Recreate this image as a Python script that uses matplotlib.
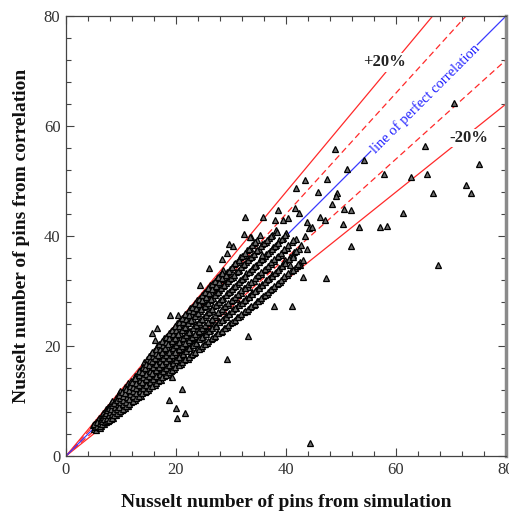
import numpy as np
import matplotlib.pyplot as plt

plt.rcParams['font.family'] = ['Liberation Serif', 'DejaVu Serif']

# (simulation, correlation) pairs - dense cloud
cloud = [
    (5.1, 5.0), (4.9, 5.6), (5.4, 4.8), (5.2, 5.5), (5.5, 6.1), (5.8, 5.2), (5.6, 5.9), (5.9, 6.5),
    (6.1, 5.1), (5.9, 5.7), (6.2, 6.2), (6.0, 6.9), (6.3, 5.5), (6.6, 6.0), (6.4, 6.8), (6.5, 7.4),
    (6.9, 5.8), (6.7, 6.4), (7.0, 7.2), (6.8, 7.8), (7.3, 6.1), (7.1, 6.6), (7.4, 7.5), (7.2, 8.0),
    (7.3, 8.6), (7.7, 6.3), (7.5, 7.1), (7.8, 7.7), (7.6, 8.5), (7.7, 9.0), (8.1, 6.8), (7.9, 7.3),
    (8.2, 8.2), (8.0, 8.8), (8.1, 9.6), (8.6, 7.0), (8.4, 7.9), (8.7, 8.4), (8.5, 9.3), (8.4, 10.0),
    (9.1, 7.5), (8.9, 8.1), (9.2, 9.1), (9.0, 9.6), (9.1, 10.5), (9.6, 7.8), (9.4, 8.7), (9.7, 9.3),
    (9.5, 10.2), (9.4, 10.8), (9.6, 11.4), (10.1, 8.3), (9.9, 8.9), (10.2, 9.9), (10.0, 10.5),
    (10.1, 11.5), (9.9, 11.9), (10.7, 8.7), (10.5, 9.6), (10.8, 10.2), (10.6, 11.2), (10.5, 11.8),
    (10.7, 12.6), (11.3, 9.1), (11.1, 10.1), (11.4, 10.8), (11.2, 11.8), (11.1, 12.3), (11.3, 13.2),
    (11.9, 9.8), (11.7, 10.5), (12.0, 11.5), (11.8, 12.2), (11.7, 13.1), (11.9, 13.7), (12.5, 10.1),
    (12.3, 11.2), (12.6, 11.9), (12.4, 12.9), (12.3, 13.6), (12.5, 14.6), (13.1, 10.7), (12.9, 11.4),
    (13.2, 12.6), (13.0, 13.3), (12.9, 14.4), (13.1, 15.1), (13.7, 11.0), (13.5, 12.2), (13.8, 12.9),
    (13.6, 14.1), (13.5, 14.8), (13.7, 15.9), (14.3, 11.7), (14.1, 12.5), (14.4, 13.7), (14.2, 14.4),
    (14.1, 15.6), (14.3, 16.3), (14.2, 17.1), (14.9, 12.0), (14.7, 13.2), (15.0, 14.0), (14.8, 15.2),
    (14.7, 16.0), (14.9, 17.2), (14.8, 17.6), (15.5, 12.7), (15.3, 13.6), (15.6, 14.8), (15.4, 15.7),
    (15.3, 16.9), (15.5, 17.7), (15.4, 18.5), (16.1, 13.0), (15.9, 14.2), (16.2, 15.1), (16.0, 16.4),
    (15.9, 17.2), (16.1, 18.5), (16.0, 19.1), (16.7, 13.6), (16.5, 14.5), (16.8, 15.9), (16.6, 16.8),
    (16.5, 18.1), (16.7, 19.0), (16.6, 20.0), (17.3, 13.9), (17.1, 15.3), (17.4, 16.2), (17.2, 17.6),
    (17.1, 18.5), (17.3, 19.9), (17.2, 20.5), (17.9, 14.6), (17.7, 15.6), (18.0, 17.0), (17.8, 18.0),
    (17.7, 19.4), (17.9, 20.4), (17.8, 21.4), (18.5, 14.9), (18.3, 16.3), (18.6, 17.4), (18.4, 18.8),
    (18.3, 19.8), (18.5, 21.2), (18.4, 21.9), (19.1, 15.5), (18.9, 16.6), (19.2, 18.1), (19.0, 19.2),
    (18.9, 20.6), (19.1, 21.7), (19.0, 22.8), (19.7, 15.8), (19.5, 17.4), (19.8, 18.5), (19.6, 20.0),
    (19.5, 21.1), (19.7, 22.6), (19.6, 23.3), (20.3, 16.5), (20.1, 17.7), (20.4, 19.2), (20.2, 20.4),
    (20.1, 22.0), (20.3, 23.1), (20.2, 24.2), (20.9, 16.8), (20.7, 18.4), (21.0, 19.6), (20.8, 21.2),
    (20.7, 22.4), (20.9, 24.0), (20.8, 24.7), (21.5, 17.5), (21.3, 18.7), (21.6, 20.4), (21.4, 21.6),
    (21.3, 23.3), (21.5, 24.5), (21.4, 25.5), (22.1, 17.7), (21.9, 19.4), (22.2, 20.7), (22.0, 22.4),
    (21.9, 23.7), (22.1, 25.3), (22.0, 26.0), (22.7, 18.4), (22.5, 19.8), (22.8, 21.5), (22.6, 22.8),
    (22.5, 24.5), (22.7, 25.8), (22.6, 26.9), (23.3, 18.7), (23.1, 20.5), (23.4, 21.8), (23.2, 23.6),
    (23.1, 25.0), (23.3, 26.7), (23.2, 27.4), (23.9, 19.4), (23.7, 20.8), (24.0, 22.6), (23.8, 24.0),
    (23.7, 25.8), (23.9, 27.2), (23.8, 28.3), (24.5, 19.7), (24.3, 21.5), (24.6, 23.0), (24.4, 24.8),
    (24.3, 26.3), (24.5, 28.1), (24.4, 28.8), (25.1, 20.3), (24.9, 21.8), (25.2, 23.7), (25.0, 25.2),
    (24.9, 27.1), (25.1, 28.6), (25.0, 29.7), (25.7, 20.6), (25.5, 22.5), (25.8, 24.1), (25.6, 26.0),
    (25.5, 27.5), (25.7, 29.5), (25.6, 30.2), (26.3, 21.3), (26.1, 22.9), (26.4, 24.8), (26.2, 26.4),
    (26.1, 28.4), (26.3, 29.9), (26.2, 31.1), (26.9, 21.6), (26.7, 23.6), (27.0, 25.2), (26.8, 27.2),
    (26.7, 28.8), (26.9, 30.8), (26.8, 31.5), (27.5, 22.3), (27.3, 23.9), (27.6, 26.0), (27.4, 27.6),
    (27.3, 29.6), (27.5, 31.3), (27.4, 32.4), (28.1, 22.5), (27.9, 24.6), (28.2, 26.3), (28.0, 28.4),
    (27.9, 30.1), (28.1, 32.2), (28.0, 32.9), (28.7, 23.2), (28.5, 24.9), (28.8, 27.1), (28.6, 28.8),
    (28.5, 30.9), (28.7, 32.6), (28.6, 33.8), (29.3, 23.5), (29.1, 25.7), (29.4, 27.4), (29.2, 29.6),
    (29.1, 31.4), (29.3, 33.5), (29.9, 24.2), (29.7, 26.0), (30.0, 28.2), (29.8, 30.0), (29.7, 32.2),
    (29.9, 34.0), (30.5, 24.5), (30.3, 26.7), (30.6, 28.6), (30.4, 30.8), (30.3, 32.6), (30.5, 34.9),
    (31.1, 25.2), (30.9, 27.0), (31.2, 29.3), (31.0, 31.2), (30.9, 33.5), (31.1, 35.3), (31.7, 25.5),
    (31.5, 27.8), (31.8, 29.7), (31.6, 32.0), (31.5, 33.9), (31.7, 36.2), (32.3, 26.1), (32.1, 28.1),
    (32.4, 30.5), (32.2, 32.4), (32.1, 34.7), (32.3, 36.6), (32.9, 26.4), (32.7, 28.8), (33.0, 30.8),
    (32.8, 33.2), (32.7, 35.2), (32.9, 37.5), (33.5, 27.1), (33.3, 29.1), (33.6, 31.6), (33.4, 33.6),
    (33.3, 36.0), (33.5, 37.9), (34.1, 27.4), (33.9, 29.9), (34.2, 31.9), (34.0, 34.4), (33.9, 36.4),
    (34.1, 38.8), (34.7, 28.1), (34.5, 30.2), (34.8, 32.7), (34.6, 34.8), (34.5, 37.3), (34.7, 39.2),
    (35.3, 28.4), (35.1, 30.9), (35.4, 33.1), (35.2, 35.6), (35.1, 37.7), (35.3, 40.1), (35.9, 29.1),
    (35.7, 31.3), (36.0, 33.8), (35.8, 36.0), (35.7, 38.5), (36.5, 29.4), (36.3, 32.0), (36.6, 34.2),
    (36.4, 36.8), (36.3, 38.9), (37.1, 30.1), (36.9, 32.4), (37.2, 35.0), (37.0, 37.2), (36.9, 39.7),
    (37.7, 30.5), (37.5, 33.1), (37.8, 35.4), (37.6, 38.0), (37.5, 40.2), (38.3, 31.3), (38.1, 33.5),
    (38.4, 36.2), (38.2, 38.4), (38.1, 41.1), (38.9, 31.6), (38.7, 34.2), (39.0, 36.6), (38.8, 39.2),
    (39.5, 32.4), (39.3, 34.7), (39.6, 37.4), (39.4, 39.7), (40.1, 32.9), (39.9, 35.6), (40.2, 37.9),
    (40.0, 40.6), (40.9, 33.7), (40.7, 36.1), (41.0, 38.9), (41.7, 34.1), (41.5, 37.1), (41.8, 39.5),
    (42.5, 35.2), (42.3, 37.7),
]

# second pass over the cloud, points sitting between the first ones
cloud_fill = [
    (5.3, 5.2), (5.1, 5.9), (5.6, 5.5), (5.7, 6.2), (6.2, 5.4), (6.1, 6.0), (6.3, 6.6),
    (6.6, 5.8), (6.5, 6.4), (6.7, 7.1), (7.0, 6.1), (6.9, 6.8), (7.1, 7.5),
    (7.4, 6.4), (7.5, 7.0), (7.3, 7.8), (7.5, 8.3), (7.9, 6.6), (7.8, 7.4), (8.0, 8.0), (7.9, 8.7),
    (8.3, 7.0), (8.4, 7.6), (8.2, 8.5), (8.3, 9.2), (8.8, 7.4), (8.7, 8.1), (8.9, 8.9), (8.8, 9.6),
    (9.3, 7.8), (9.2, 8.6), (9.4, 9.4), (9.3, 10.1), (9.8, 8.1), (9.7, 9.0), (9.9, 9.8), (9.8, 10.5),
    (9.7, 11.1), (10.3, 8.6), (10.4, 9.4), (10.3, 10.2), (10.4, 11.0), (10.2, 11.7),
    (10.9, 9.1), (10.9, 9.9), (11.0, 10.7), (10.8, 11.5), (10.9, 12.2),
    (11.5, 9.5), (11.5, 10.4), (11.6, 11.3), (11.4, 12.0), (11.6, 12.8),
    (12.1, 10.0), (12.2, 10.9), (12.1, 11.8), (12.2, 12.6), (12.0, 13.4),
    (12.7, 10.5), (12.8, 11.5), (12.7, 12.3), (12.8, 13.2), (12.6, 14.1),
    (13.3, 11.0), (13.4, 11.9), (13.3, 12.9), (13.4, 13.8), (13.2, 14.7), (13.3, 15.5),
    (13.9, 11.4), (14.0, 12.4), (13.9, 13.4), (14.0, 14.3), (13.8, 15.3), (14.0, 16.2),
    (14.5, 11.9), (14.6, 12.9), (14.5, 14.0), (14.6, 14.9), (14.4, 16.0), (14.6, 16.8),
    (15.1, 12.3), (15.2, 13.5), (15.1, 14.5), (15.2, 15.5), (15.0, 16.5), (15.2, 17.5), (15.1, 18.2),
    (15.7, 12.8), (15.8, 14.0), (15.7, 15.1), (15.8, 16.1), (15.6, 17.2), (15.8, 18.1), (15.7, 18.9),
    (16.3, 13.3), (16.4, 14.5), (16.3, 15.6), (16.4, 16.7), (16.2, 17.8), (16.4, 18.8), (16.3, 19.5),
    (16.9, 13.8), (17.0, 14.9), (16.9, 16.1), (17.0, 17.2), (16.8, 18.4), (17.0, 19.5), (16.9, 20.3),
    (17.5, 14.3), (17.6, 15.5), (17.5, 16.7), (17.6, 17.9), (17.4, 19.0), (17.6, 20.2), (17.5, 21.0),
    (18.1, 14.7), (18.2, 16.0), (18.1, 17.2), (18.2, 18.4), (18.0, 19.6), (18.2, 20.8), (18.1, 21.6),
    (18.7, 15.2), (18.8, 16.5), (18.7, 17.8), (18.8, 19.0), (18.6, 20.3), (18.8, 21.5), (18.7, 22.4),
    (19.3, 15.7), (19.4, 17.0), (19.3, 18.3), (19.4, 19.6), (19.2, 20.9), (19.4, 22.2), (19.3, 23.0),
    (19.9, 16.1), (20.0, 17.5), (19.9, 18.9), (20.0, 20.2), (19.8, 21.5), (20.0, 22.9), (19.9, 23.7),
    (20.5, 16.6), (20.6, 18.0), (20.5, 19.4), (20.6, 20.8), (20.4, 22.2), (20.6, 23.6), (20.5, 24.4),
    (21.1, 17.1), (21.2, 18.6), (21.1, 20.0), (21.2, 21.4), (21.0, 22.9), (21.2, 24.3), (21.1, 25.1),
    (21.7, 17.6), (21.8, 19.1), (21.7, 20.5), (21.8, 22.0), (21.6, 23.5), (21.8, 24.9), (21.7, 25.8),
    (22.3, 18.0), (22.4, 19.6), (22.3, 21.1), (22.4, 22.6), (22.2, 24.1), (22.4, 25.6), (22.3, 26.5),
    (22.9, 18.5), (23.0, 20.1), (22.9, 21.6), (23.0, 23.2), (22.8, 24.7), (23.0, 26.3), (22.9, 27.1),
    (23.5, 19.0), (23.6, 20.6), (23.5, 22.2), (23.6, 23.8), (23.4, 25.4), (23.6, 27.0), (23.5, 27.8),
    (24.1, 19.5), (24.2, 21.2), (24.1, 22.8), (24.2, 24.4), (24.0, 26.0), (24.2, 27.6), (24.1, 28.5),
    (24.7, 20.0), (24.8, 21.7), (24.7, 23.3), (24.8, 25.0), (24.6, 26.7), (24.8, 28.3), (24.7, 29.2),
    (25.3, 20.4), (25.4, 22.2), (25.3, 23.9), (25.4, 25.6), (25.2, 27.3), (25.4, 29.0), (25.3, 29.9),
    (25.9, 20.9), (26.0, 22.7), (25.9, 24.4), (26.0, 26.2), (25.8, 27.9), (26.0, 29.7), (25.9, 30.6),
    (26.5, 21.4), (26.6, 23.2), (26.5, 25.0), (26.6, 26.8), (26.4, 28.6), (26.6, 30.4), (26.5, 31.2),
    (27.1, 21.9), (27.2, 23.7), (27.1, 25.6), (27.2, 27.4), (27.0, 29.2), (27.2, 31.0), (27.1, 31.9),
    (27.7, 22.4), (27.8, 24.3), (27.7, 26.1), (27.8, 28.0), (27.6, 29.8), (27.8, 31.7), (27.7, 32.6),
    (28.3, 22.8), (28.4, 24.8), (28.3, 26.7), (28.4, 28.6), (28.2, 30.5), (28.4, 32.4), (28.3, 33.3),
    (28.9, 23.3), (29.0, 25.3), (28.9, 27.2), (29.0, 29.2), (28.8, 31.1), (29.0, 33.0),
    (29.5, 23.8), (29.6, 25.8), (29.5, 27.8), (29.6, 29.8), (29.4, 31.8), (29.6, 33.7),
    (30.1, 24.3), (30.2, 26.3), (30.1, 28.4), (30.2, 30.4), (30.0, 32.4), (30.2, 34.4),
    (30.7, 24.8), (30.8, 26.9), (30.7, 28.9), (30.8, 31.0), (30.6, 33.0), (30.8, 35.1),
    (31.3, 25.3), (31.4, 27.4), (31.3, 29.5), (31.4, 31.6), (31.2, 33.7), (31.4, 35.7),
    (31.9, 25.8), (32.0, 27.9), (31.9, 30.1), (32.0, 32.2), (31.8, 34.3), (32.0, 36.4),
    (32.5, 26.3), (32.6, 28.4), (32.5, 30.6), (32.6, 32.8), (32.4, 34.9), (32.6, 37.0),
    (33.1, 26.7), (33.2, 29.0), (33.1, 31.2), (33.2, 33.4), (33.0, 35.6), (33.2, 37.7),
    (33.7, 27.2), (33.8, 29.5), (33.7, 31.7), (33.8, 34.0), (33.6, 36.2), (33.8, 38.3),
    (34.3, 27.7), (34.4, 30.0), (34.3, 32.3), (34.4, 34.6), (34.2, 36.8), (34.4, 39.0),
    (34.9, 28.2), (35.0, 30.5), (34.9, 32.9), (35.0, 35.2), (34.8, 37.5),
    (35.5, 28.7), (35.6, 31.1), (35.5, 33.4), (35.6, 35.8), (35.4, 38.1),
    (36.1, 29.2), (36.2, 31.6), (36.1, 34.0), (36.2, 36.4), (36.0, 38.7),
    (36.7, 29.8), (36.8, 32.2), (36.7, 34.6), (36.8, 37.0), (36.6, 39.3),
    (37.3, 30.3), (37.4, 32.7), (37.3, 35.2), (37.4, 37.6), (37.2, 40.0),
    (37.9, 30.9), (38.0, 33.3), (37.9, 35.8), (38.0, 38.2),
    (38.5, 31.4), (38.6, 33.9), (38.5, 36.4), (38.6, 38.8), (38.4, 40.7),
    (39.1, 32.0), (39.2, 34.5), (39.1, 37.0), (39.2, 39.4), (39.7, 32.7), (39.8, 35.1),
    (39.7, 37.6), (39.8, 40.1), (40.4, 33.3), (40.5, 35.8), (40.4, 38.4),
    (41.2, 33.9), (41.3, 36.6), (41.2, 39.2), (42.0, 34.6), (41.9, 37.3),
]

# scattered points outside the main cloud
outliers = [
    (44.4, 2.4), (21.0, 12.1), (18.8, 10.2), (20.0, 8.8), (21.6, 7.9), (20.2, 7.0), (19.3, 14.4),
    (29.2, 17.6), (33.0, 21.8), (37.8, 27.3), (41.0, 27.3), (26.0, 34.2), (15.7, 22.4), (16.6, 23.2),
    (18.9, 25.6), (20.4, 25.6), (16.2, 21.1), (24.4, 31.1), (32.5, 43.5), (35.9, 43.5), (32.4, 40.3),
    (33.6, 39.9), (29.7, 38.5), (30.4, 38.1), (29.2, 37.0), (28.4, 35.8), (70.5, 64.1), (65.3, 56.4),
    (75.1, 53.1), (57.9, 51.3), (62.7, 50.7), (65.7, 51.3), (72.7, 49.3), (73.7, 47.8), (66.7, 47.9),
    (61.3, 44.2), (57.1, 41.7), (58.3, 41.9), (67.7, 34.7), (51.9, 38.2), (53.3, 41.7), (50.4, 42.1),
    (50.5, 45.0), (51.8, 44.7), (48.9, 55.9), (51.0, 52.1), (54.2, 53.8), (49.3, 47.9), (49.1, 47.3),
    (48.3, 45.9), (43.5, 50.1), (47.5, 50.3), (41.8, 48.8), (45.9, 48.0), (41.6, 45.1), (42.4, 44.1),
    (38.6, 44.7), (38.0, 42.9), (39.5, 43.0), (40.4, 43.2), (46.2, 43.5), (47.1, 43.0), (44.1, 41.5),
    (44.7, 41.7), (43.5, 40.0), (42.8, 38.4), (40.7, 34.7), (42.5, 34.7), (35.6, 36.5), (33.5, 39.9),
    (47.3, 32.4), (43.0, 32.6), (43.8, 42.6), (43.8, 37.6), (43.1, 35.6), (42.2, 35.0), (41.3, 36.2),
]

points = cloud + cloud_fill + outliers
nu_sim = np.array([p[0] for p in points])
nu_corr = np.array([p[1] for p in points])

band_factors = [1.2, 1.1, 0.9, 0.8]
band_styles = ['-', '--', '--', '-']

fig = plt.figure(figsize=(5.09, 5.12), dpi=100)
ax = fig.add_axes([66 / 509, 56 / 512, 440 / 509, 440 / 512])

xx = np.array([0, 80])
for f, ls in zip(band_factors, band_styles):
    ax.plot(xx, f * xx, color='#ff2a2a', lw=0.9, ls=ls,
            dashes=(5, 3) if ls == '--' else (None, None), zorder=2)
ax.plot(xx, xx, color='#3a3aff', lw=0.9, zorder=2)

ax.plot(nu_sim, nu_corr, linestyle='none', marker='^', ms=5, mfc='#6e6e6e',
        mec='black', mew=0.9, zorder=3)

ax.text(58, 71.6, '+20%', fontsize=12, fontweight='bold', color='#222222',
        ha='center', va='center', zorder=4,
        bbox=dict(facecolor='white', edgecolor='none', pad=1))
ax.text(73.2, 57.8, '-20%', fontsize=12, fontweight='bold', color='#222222',
        ha='center', va='center', zorder=4,
        bbox=dict(facecolor='white', edgecolor='none', pad=1))
ax.text(65.3, 64.9, 'line of perfect correlation', fontsize=10.5, color='#2020ff',
        rotation=45, rotation_mode='anchor', ha='center', va='center', zorder=4,
        bbox=dict(facecolor='white', edgecolor='none', pad=0.5))

ax.set_xlim(0, 80)
ax.set_ylim(0, 80)
ax.set_xticks([0, 20, 40, 60, 80])
ax.set_yticks([0, 20, 40, 60, 80])
ax.set_xticks(np.arange(0, 81, 4), minor=True)
ax.set_yticks(np.arange(0, 81, 4), minor=True)
ax.tick_params(which='both', direction='in', top=True, right=True, colors='#444444',
               labelcolor='#333333', labelsize=12)
ax.tick_params(which='major', length=6, width=0.8, pad=4)
ax.tick_params(which='minor', length=3.5, width=0.8)
for s in ['left', 'bottom', 'top']:
    ax.spines[s].set_color('#444444')
    ax.spines[s].set_linewidth(0.9)
ax.spines['right'].set_color('#8a8a8a')
ax.spines['right'].set_linewidth(2.5)

ax.set_xlabel('Nusselt number of pins from simulation', fontsize=14,
              fontweight='bold', color='#111111', labelpad=12)
ax.set_ylabel('Nusselt number of pins from correlation', fontsize=14,
              fontweight='bold', color='#111111', labelpad=10)

fig.savefig('out.png', dpi=100)
